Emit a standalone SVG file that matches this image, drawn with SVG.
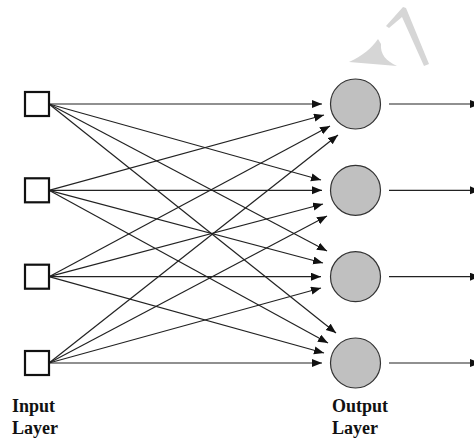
<svg xmlns="http://www.w3.org/2000/svg" width="474" height="438" viewBox="0 0 474 438">
<style>
.lnk{stroke:#222;stroke-width:1.2;fill:none;marker-end:url(#ah)}
.inp{fill:#fff;stroke:#111;stroke-width:2.2}
.out{fill:#c0c0c0;stroke:#333;stroke-width:1.2}
.lbl{font-family:"Liberation Serif","Times New Roman",serif;font-weight:bold;font-size:18px;fill:#111}
.wm{fill:#d6d6d6}
</style>
<defs>
<marker id="ah" markerUnits="userSpaceOnUse" markerWidth="11" markerHeight="9" refX="10" refY="4" orient="auto">
<path d="M0,0 L10,4 L0,8 Z" fill="#111"/>
</marker>
</defs>
<rect width="474" height="438" fill="#fff"/>
<g id="watermark">
<path class="wm" d="M349,62 C362,56 372,48 378,39 L381,44 C380,54 386,61 397,66 Z"/>
<path class="wm" d="M386,26 L403,7 L406,8 L429,64 L424,66 L402,17 L389,28 Z"/>
</g>
<g id="connectors">
<line class="lnk" x1="49" y1="104" x2="322" y2="104"/>
<line class="lnk" x1="49" y1="190.3" x2="324" y2="115"/>
<line class="lnk" x1="49" y1="276.7" x2="330" y2="126"/>
<line class="lnk" x1="49" y1="363" x2="338" y2="135"/>
<line class="lnk" x1="49" y1="104" x2="321" y2="180"/>
<line class="lnk" x1="49" y1="190.3" x2="322" y2="190.3"/>
<line class="lnk" x1="49" y1="276.7" x2="323" y2="204"/>
<line class="lnk" x1="49" y1="363" x2="327" y2="216"/>
<line class="lnk" x1="49" y1="104" x2="327" y2="251"/>
<line class="lnk" x1="49" y1="190.3" x2="323" y2="263"/>
<line class="lnk" x1="49" y1="276.7" x2="321" y2="276.7"/>
<line class="lnk" x1="49" y1="363" x2="321" y2="288"/>
<line class="lnk" x1="49" y1="104" x2="336" y2="333"/>
<line class="lnk" x1="49" y1="190.3" x2="328" y2="343"/>
<line class="lnk" x1="49" y1="276.7" x2="324" y2="353"/>
<line class="lnk" x1="49" y1="363" x2="322" y2="363"/>
<line class="lnk" x1="389" y1="104" x2="480" y2="104"/>
<line class="lnk" x1="389" y1="190.3" x2="480" y2="190.3"/>
<line class="lnk" x1="389" y1="276.7" x2="480" y2="276.7"/>
<line class="lnk" x1="389" y1="363" x2="480" y2="363"/>
</g>
<g id="in1"><rect class="inp" x="25" y="92" width="24" height="24"/></g>
<g id="in2"><rect class="inp" x="25" y="178.3" width="24" height="24"/></g>
<g id="in3"><rect class="inp" x="25" y="264.7" width="24" height="24"/></g>
<g id="in4"><rect class="inp" x="25" y="351" width="24" height="24"/></g>
<g id="out1"><circle class="out" cx="355.5" cy="104" r="25"/></g>
<g id="out2"><circle class="out" cx="355.5" cy="190.3" r="25"/></g>
<g id="out3"><circle class="out" cx="355.5" cy="276.7" r="25"/></g>
<g id="out4"><circle class="out" cx="355.5" cy="363" r="25"/></g>
<g id="label-input">
<text class="lbl" x="12" y="412">Input</text>
<text class="lbl" x="12" y="434">Layer</text>
</g>
<g id="label-output">
<text class="lbl" x="332" y="412">Output</text>
<text class="lbl" x="332" y="434">Layer</text>
</g>
</svg>
